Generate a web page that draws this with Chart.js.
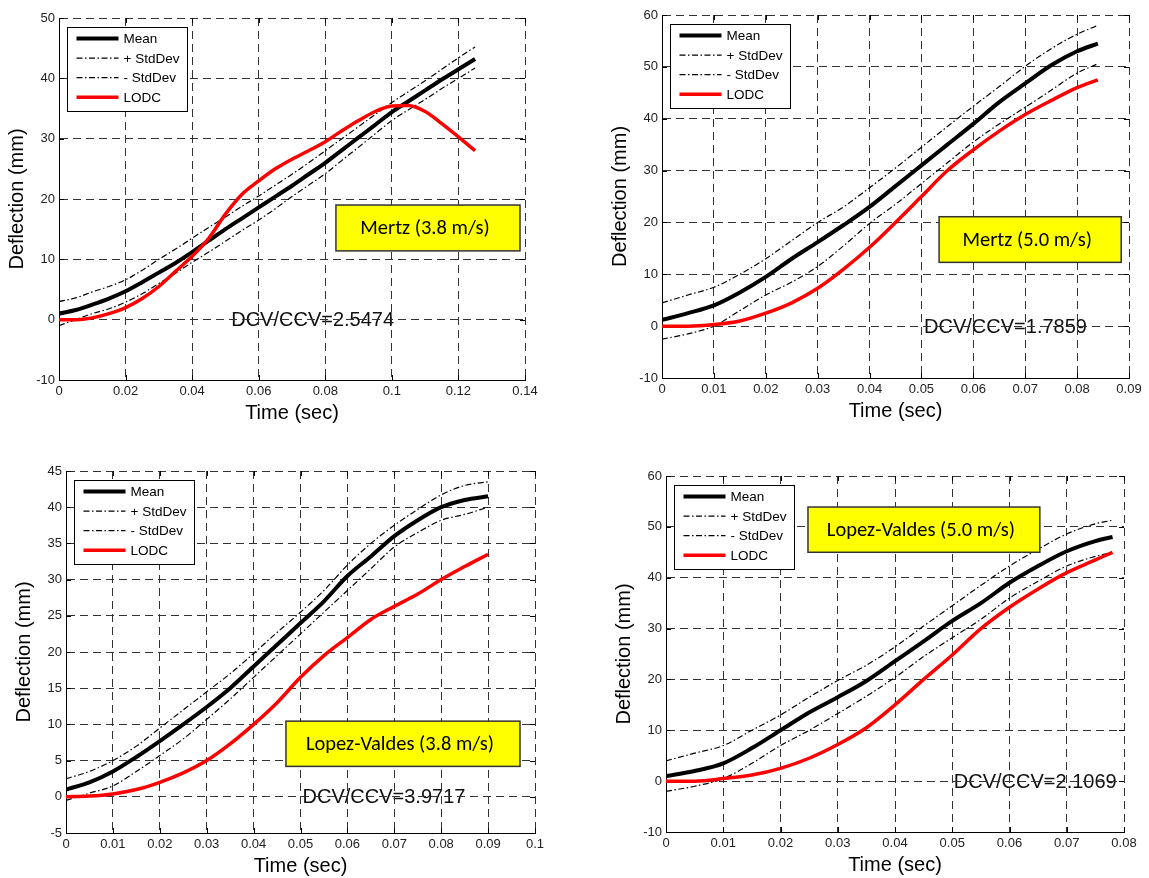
<!DOCTYPE html>
<html>
<head>
<meta charset="utf-8">
<script src="https://cdn.jsdelivr.net/npm/chart.js@4/dist/chart.umd.min.js"></script>
<style>
  body { margin: 0; background: #fff; width: 1149px; height: 878px; position: relative; overflow: hidden; }
  canvas { position: absolute; }
</style>
</head>
<body>
<canvas id="c1" width="575" height="440" style="left:0;top:0"></canvas>
<canvas id="c2" width="574" height="440" style="left:575px;top:0"></canvas>
<canvas id="c3" width="575" height="438" style="left:0;top:440px"></canvas>
<canvas id="c4" width="574" height="438" style="left:575px;top:440px"></canvas>
<script>
// Mertz 3.8 m/s
const mertz38Time  = [0, 0.005, 0.01, 0.015, 0.02, 0.025, 0.03, 0.035, 0.04, 0.045, 0.05, 0.055, 0.06, 0.065, 0.07, 0.075, 0.08, 0.085, 0.09, 0.095, 0.1, 0.105, 0.11, 0.115, 0.12, 0.125];
const mertz38Mean  = [1, 1.6, 2.5, 3.5, 4.7, 6.2, 7.8, 9.4, 11.2, 13.1, 15, 16.8, 18.6, 20.4, 22.2, 24.1, 26, 28.1, 30.2, 32.3, 34.4, 36.2, 38, 39.8, 41.5, 43.2];
const mertz38Plus  = [3, 3.6, 4.6, 5.5, 6.6, 8.2, 10, 11.7, 13.5, 15.3, 17, 18.8, 20.5, 22.3, 24.1, 26, 28, 30, 32, 34, 36, 37.8, 39.6, 41.5, 43.4, 45.2];
const mertz38Minus = [-1, 0, 1, 1.8, 2.9, 4.3, 6, 7.7, 9.5, 11.2, 13, 14.8, 16.5, 18.4, 20.4, 22.3, 24.2, 26.4, 28.6, 30.8, 33, 34.8, 36.5, 38.3, 40, 41.7];
const mertz38Lodc  = [0, 0, 0.3, 1, 2, 3.5, 5.5, 8, 10.5, 13.5, 17.5, 20.8, 23, 25, 26.6, 28, 29.5, 31.3, 33, 34.5, 35.4, 35.5, 34.5, 32.5, 30.3, 28];

// Mertz 5.0 m/s
const mertz50Time  = [0, 0.005, 0.01, 0.015, 0.02, 0.025, 0.03, 0.035, 0.04, 0.045, 0.05, 0.055, 0.06, 0.065, 0.07, 0.075, 0.08, 0.084];
const mertz50Mean  = [1.2, 2.5, 4, 6.5, 9.5, 13, 16.2, 19.5, 23, 27, 31, 35, 39, 43.2, 46.8, 50.3, 53, 54.5];
const mertz50Plus  = [4.5, 6, 7.5, 10, 13, 16.5, 20, 23, 26.7, 30.5, 34.5, 38.5, 42.4, 46.2, 50.1, 53.5, 56.3, 58];
const mertz50Minus = [-2.5, -1.5, 0, 3, 6, 8.5, 11.5, 15.5, 19.8, 23.5, 27.5, 31.5, 35.5, 39, 42.2, 45.5, 48.8, 50.6];
const mertz50Lodc  = [0, 0, 0.3, 1, 2.5, 4.5, 7.3, 11, 15.2, 20, 25, 30, 34, 37.6, 40.8, 43.5, 46, 47.5];

// Lopez-Valdes 3.8 m/s
const lopez38Time  = [0, 0.005, 0.01, 0.015, 0.02, 0.025, 0.03, 0.035, 0.04, 0.045, 0.05, 0.055, 0.06, 0.065, 0.07, 0.075, 0.08, 0.085, 0.09];
const lopez38Mean  = [1, 2, 3.5, 5.5, 7.7, 10, 12.4, 15, 18, 21, 24, 27, 30.5, 33.2, 36, 38.2, 40, 41, 41.5];
const lopez38Plus  = [2.5, 3.5, 5, 7, 9.5, 12, 14.5, 17, 19.8, 22.7, 25.5, 28.5, 32, 35, 37.5, 39.7, 41.7, 43, 43.5];
const lopez38Minus = [-0.5, 0.5, 1.5, 3.5, 5.7, 8, 10.7, 13.5, 16.5, 19.5, 22.5, 25.5, 28.5, 31.5, 34.5, 36.5, 38.2, 39, 40];
const lopez38Lodc  = [0, 0.1, 0.4, 1, 2, 3.3, 5, 7.3, 10, 13, 16.5, 19.5, 22, 24.5, 26.3, 28, 30, 31.8, 33.5];

// Lopez-Valdes 5.0 m/s
const lopez50Time  = [0, 0.005, 0.01, 0.015, 0.02, 0.025, 0.03, 0.035, 0.04, 0.045, 0.05, 0.055, 0.06, 0.065, 0.07, 0.075, 0.078];
const lopez50Mean  = [1, 2, 3.5, 6.5, 10, 13.5, 16.5, 19.7, 23.6, 27.5, 31.5, 35, 39, 42.3, 45.2, 47.2, 48];
const lopez50Plus  = [4, 5.5, 7, 10, 13, 16.5, 19.8, 22.8, 26.4, 30.5, 34.5, 38.5, 42.3, 45.6, 48.6, 50.6, 51.3];
const lopez50Minus = [-2, -1, 0.5, 3.5, 7, 10, 13.3, 16.7, 20.4, 24.5, 28.2, 31.8, 36, 39.3, 42.3, 44.2, 45];
const lopez50Lodc  = [0, 0, 0.5, 1.2, 2.5, 4.5, 7.2, 10.5, 15, 20, 24.8, 30, 34.2, 37.8, 41, 43.5, 45];

const seriesLabels = ['Mean', '+ StdDev', '- StdDev', 'LODC'];

const FONT = "'Liberation Sans', Arial, sans-serif";
const BOX_FONT = "Carlito, Lato, sans-serif";

function pts(t, v) { return t.map((x, i) => ({ x: x, y: v[i] })); }

// draws the MATLAB-like extras: inner ticks, DCV text, yellow label, legend
const extras = {
  id: 'extras',
  beforeDraw(chart) {
    const o = chart.options.plugins.extras;
    const { ctx, scales: { x, y } } = chart;
    ctx.save();
    ctx.font = '20px ' + FONT;
    ctx.fillStyle = '#111';
    ctx.textAlign = 'center';
    ctx.textBaseline = 'middle';
    ctx.fillText(o.dcv, x.getPixelForValue(o.dcvX), y.getPixelForValue(0) + 1);
    ctx.restore();
  },
  beforeDatasetsDraw(chart) {
    const { ctx, chartArea: a, scales: { x, y } } = chart;
    ctx.save();
    ctx.strokeStyle = '#000';
    ctx.lineWidth = 1;
    ctx.beginPath();
    x.ticks.forEach(t => {
      const px = Math.round(x.getPixelForValue(t.value)) + 0.5;
      ctx.moveTo(px, a.bottom); ctx.lineTo(px, a.bottom - 5);
      ctx.moveTo(px, a.top); ctx.lineTo(px, a.top + 5);
    });
    y.ticks.forEach(t => {
      const py = Math.round(y.getPixelForValue(t.value)) + 0.5;
      ctx.moveTo(a.left, py); ctx.lineTo(a.left + 5, py);
      ctx.moveTo(a.right, py); ctx.lineTo(a.right - 5, py);
    });
    ctx.stroke();
    ctx.restore();
  },
  afterDatasetsDraw(chart) {
    const o = chart.options.plugins.extras;
    const { ctx, chartArea: a, scales: { x, y } } = chart;
    ctx.save();
    // yellow label box
    const bx1 = x.getPixelForValue(o.box[0]), bx2 = x.getPixelForValue(o.box[1]);
    const by1 = y.getPixelForValue(o.box[2]), by2 = y.getPixelForValue(o.box[3]);
    ctx.fillStyle = '#ffff00';
    ctx.fillRect(bx1, by1, bx2 - bx1, by2 - by1);
    ctx.strokeStyle = '#333';
    ctx.lineWidth = 1.5;
    ctx.strokeRect(bx1, by1, bx2 - bx1, by2 - by1);
    ctx.fillStyle = '#000';
    ctx.font = '20.5px ' + BOX_FONT;
    ctx.textAlign = 'center';
    ctx.textBaseline = 'middle';
    ctx.fillText(o.label, (bx1 + bx2) / 2 - 3, (by1 + by2) / 2 + 1);

    // legend
    const lx = a.left + 8.5, ly = a.top + 9.5, lw = 120, lh = 84;
    ctx.fillStyle = '#fff';
    ctx.fillRect(lx, ly, lw, lh);
    ctx.strokeStyle = '#000';
    ctx.lineWidth = 1;
    ctx.strokeRect(lx, ly, lw, lh);
    ctx.font = '13.5px ' + FONT;
    ctx.textAlign = 'left';
    chart.data.datasets.forEach((ds, i) => {
      const ry = ly + 11 + i * 19.6;
      ctx.setLineDash(ds.borderDash || []);
      ctx.lineWidth = ds.borderWidth;
      ctx.strokeStyle = ds.borderColor;
      ctx.beginPath();
      ctx.moveTo(lx + 9, ry); ctx.lineTo(lx + 51, ry);
      ctx.stroke();
      ctx.setLineDash([]);
      ctx.fillStyle = '#000';
      ctx.fillText(ds.label, lx + 56, ry + 1);
    });
    ctx.restore();
  }
};

function makeChart(id, t, mean, plus, minus, lodc, ax, ex, lay) {
  const dashDot = [6, 2.5, 1.5, 2.5];
  new Chart(document.getElementById(id), {
    type: 'line',
    data: {
      datasets: [
        { label: seriesLabels[0], data: pts(t, mean), borderColor: '#000', borderWidth: 4, order: 1 },
        { label: seriesLabels[1], data: pts(t, plus), borderColor: '#000', borderWidth: 1.2, borderDash: dashDot, order: 2 },
        { label: seriesLabels[2], data: pts(t, minus), borderColor: '#000', borderWidth: 1.2, borderDash: dashDot, order: 2 },
        { label: seriesLabels[3], data: pts(t, lodc), borderColor: '#ff0000', borderWidth: 3.5, order: 0 }
      ]
    },
    options: {
      responsive: false,
      animation: false,
      events: [],
      elements: { point: { radius: 0 }, line: { cubicInterpolationMode: 'monotone', fill: false } },
      layout: { padding: { left: lay.left, top: lay.top, right: lay.right, bottom: lay.bottom } },
      plugins: {
        legend: { display: false },
        tooltip: { enabled: false },
        extras: ex
      },
      scales: {
        x: {
          type: 'linear',
          min: 0, max: ax.xMax,
          afterFit: s => { s.height = 45; },
          ticks: {
            stepSize: ax.xStep,
            padding: 4,
            color: '#222',
            font: { family: FONT, size: 13 },
            maxRotation: 0,
            autoSkip: false,
            callback: v => String(Math.round(v * 1000) / 1000)
          },
          grid: { color: '#333', lineWidth: 1, drawTicks: false },
          border: { color: '#000', width: 1, dash: [8, 5] },
          title: { display: true, text: 'Time (sec)', color: '#000', font: { family: FONT, size: 20 }, padding: { top: 0, bottom: 0 } }
        },
        y: {
          min: ax.yMin, max: ax.yMax,
          afterFit: s => { s.width = 58; },
          ticks: {
            stepSize: ax.yStep,
            padding: 4,
            color: '#222',
            font: { family: FONT, size: 13 }
          },
          grid: { color: '#333', lineWidth: 1, drawTicks: false },
          border: { color: '#000', width: 1, dash: [8, 5] },
          title: { display: true, text: 'Deflection (mm)', color: '#000', font: { family: FONT, size: 20 }, padding: { top: 4, bottom: 0 } }
        }
      }
    },
    plugins: [extras]
  });
}

makeChart('c1', mertz38Time, mertz38Mean, mertz38Plus, mertz38Minus, mertz38Lodc,
  { xMax: 0.14, xStep: 0.02, yMin: -10, yMax: 50, yStep: 10 },
  { label: 'Mertz (3.8 m/s)', box: [0.0832, 0.1385, 19, 11.4], dcv: 'DCV/CCV=2.5474', dcvX: 0.0762 },
  { left: 1, top: 18, right: 50, bottom: 15 });

makeChart('c2', mertz50Time, mertz50Mean, mertz50Plus, mertz50Minus, mertz50Lodc,
  { xMax: 0.09, xStep: 0.01, yMin: -10, yMax: 60, yStep: 10 },
  { label: 'Mertz (5.0 m/s)', box: [0.0534, 0.0885, 21.1, 12.3], dcv: 'DCV/CCV=1.7859', dcvX: 0.0662 },
  { left: 29, top: 15, right: 20, bottom: 17 });

makeChart('c3', lopez38Time, lopez38Mean, lopez38Plus, lopez38Minus, lopez38Lodc,
  { xMax: 0.1, xStep: 0.01, yMin: -5, yMax: 45, yStep: 5 },
  { label: 'Lopez-Valdes (3.8 m/s)', box: [0.0469, 0.0968, 10.45, 4.2], dcv: 'DCV/CCV=3.9717', dcvX: 0.0678 },
  { left: 8, top: 31, right: 40, bottom: 0 });

makeChart('c4', lopez50Time, lopez50Mean, lopez50Plus, lopez50Minus, lopez50Lodc,
  { xMax: 0.08, xStep: 0.01, yMin: -10, yMax: 60, yStep: 10 },
  { label: 'Lopez-Valdes (5.0 m/s)', box: [0.0248, 0.0653, 53.9, 45], dcv: 'DCV/CCV=2.1069', dcvX: 0.0645 },
  { left: 33, top: 36, right: 25, bottom: 1 });
</script>
</body>
</html>
